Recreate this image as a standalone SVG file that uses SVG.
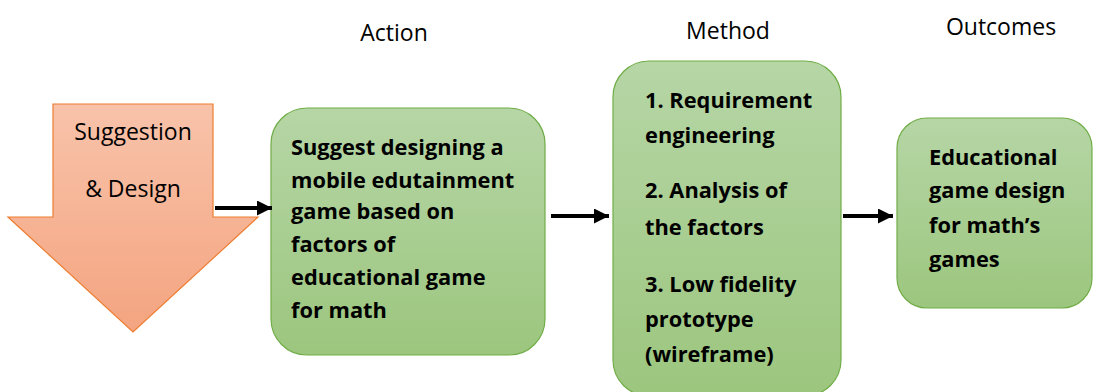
<svg xmlns="http://www.w3.org/2000/svg" width="1095" height="392" viewBox="0 0 1095 392">
<defs>
<linearGradient id="gGreen" x1="0" y1="0" x2="0" y2="1">
<stop offset="0" stop-color="#b6d6a6"/>
<stop offset="1" stop-color="#9cc67e"/>
</linearGradient>
<linearGradient id="gOrange" x1="0" y1="0" x2="0" y2="1">
<stop offset="0" stop-color="#f8c3aa"/>
<stop offset="1" stop-color="#f4a480"/>
</linearGradient>
<marker id="ah" markerWidth="15" markerHeight="15" refX="15" refY="7.5" orient="auto" markerUnits="userSpaceOnUse">
<path d="M0,0 L15,7.5 L0,15 Z" fill="#000"/>
</marker>
<style>
.box{fill:url(#gGreen);stroke:#70ad47;stroke-width:1.2}
.bt{font-family:"Open Sans","Liberation Sans",sans-serif;font-weight:bold;font-size:21.8px;fill:#000}
.hd{font-family:"Open Sans","Liberation Sans",sans-serif;font-size:23px;fill:#000;text-anchor:middle}
.conn{stroke:#000;stroke-width:4;fill:none;marker-end:url(#ah)}
</style>
</defs>
<rect width="1095" height="392" fill="#fff"/>
<g id="headers">
<text class="hd" x="394" y="41">Action</text>
<text class="hd" x="728" y="39">Method</text>
<text class="hd" x="1001" y="35">Outcomes</text>
</g>
<g id="suggestion">
<path d="M53,104 L213,104 L213,217 L258,217 L133,332 L8,217 L53,217 Z" fill="url(#gOrange)" stroke="#ed7d31" stroke-width="1.2"/>
<text class="hd" x="133" y="140">Suggestion</text>
<text class="hd" x="133" y="197">&amp; Design</text>
</g>
<g id="action">
<rect class="box" x="271" y="108" width="274" height="247" rx="36"/>
<text class="bt"><tspan x="291" y="155">Suggest designing a</tspan><tspan x="291" y="188">mobile edutainment</tspan><tspan x="291" y="219">game based on</tspan><tspan x="291" y="252">factors of</tspan><tspan x="291" y="285">educational game</tspan><tspan x="291" y="318">for math</tspan></text>
</g>
<g id="method">
<rect class="box" x="613" y="61" width="228" height="335" rx="36"/>
<text class="bt"><tspan x="645" y="108">1. Requirement</tspan><tspan x="645" y="143">engineering</tspan><tspan x="645" y="198">2. Analysis of</tspan><tspan x="645" y="235">the factors</tspan><tspan x="645" y="292">3. Low fidelity</tspan><tspan x="645" y="327">prototype</tspan><tspan x="645" y="362">(wireframe)</tspan></text>
</g>
<g id="outcomes">
<rect class="box" x="897" y="118" width="195" height="190" rx="30"/>
<text class="bt"><tspan x="929" y="165">Educational</tspan><tspan x="929" y="198">game design</tspan><tspan x="929" y="233">for math’s</tspan><tspan x="929" y="267">games</tspan></text>
</g>
<g id="connectors">
<line class="conn" x1="215" y1="208" x2="272" y2="208"/>
<line class="conn" x1="551" y1="216" x2="609" y2="216"/>
<line class="conn" x1="843" y1="216" x2="893" y2="216"/>
</g>
</svg>
